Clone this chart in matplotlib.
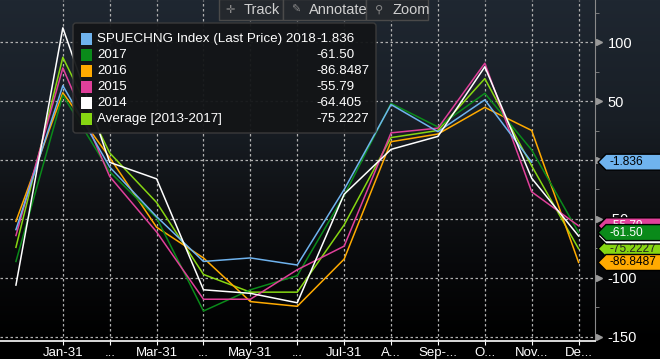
import numpy as np
import matplotlib
matplotlib.use("Agg")
import matplotlib.pyplot as plt
from matplotlib.patches import Polygon, Rectangle, FancyBboxPatch
from matplotlib.transforms import IdentityTransform, blended_transform_factory

plt.rcParams['font.family'] = ['Liberation Sans', 'DejaVu Sans']

# data (first point = previous Dec)
months = ["", "Jan-31", "...", "Mar-31", "...", "May-31", "...", "Jul-31",
          "A...", "Sep-...", "O...", "Nov...", "De..."]
s2018 = [-59, 63, -6, -48, -86, -83, -89, -25, 47, 24, 51, -1.836]
s2017 = [-86, 55, -10, -49, -128, -110, -98, -30, 48, 28, 56.5, 8.5, -61.50]
s2016 = [-52, 57, 2, -57, -83, -120, -124, -84, 15.5, 22, 44.6, 25, -86.8487]
s2015 = [-64, 78, -14, -61, -118, -118, -93, -73, 23, 27, 82, -27, -55.79]
s2014 = [-106, 112, -2, -16, -110, -113, -121, -29, 9, 20, 79, -15.5, -64.405]
avg = [-74, 87, 6, -36, -97, -112, -112, -55, 19, 25, 69, -5, -75.2227]

names = ["SPUECHNG Index (Last Price) 2018", "2017", "2016", "2015", "2014",
         "Average [2013-2017]"]
last_vals = ["-1.836", "-61.50", "-86.8487", "-55.79", "-64.405", "-75.2227"]
colors = ["#6fb3ee", "#0a8a1a", "#ffaa00", "#e0409a", "#ffffff", "#86d612"]
series = [s2018, s2017, s2016, s2015, s2014, avg]

W, H = 660, 359
FS = 10
fig = plt.figure(figsize=(W / 100, H / 100), dpi=100)

# background gradient
bg = fig.add_axes([0, 0, 1, 1], zorder=-10)
ys = np.arange(H)
stops_y = [0, 120, 200, 270, 341, 359]
stops_c = [(31, 39, 49), (24, 30, 37), (15, 17, 20), (7, 8, 10), (0, 0, 0), (0, 0, 0)]
grad = np.stack([np.interp(ys, stops_y, [c[i] for c in stops_c]) for i in range(3)], axis=-1) / 255
bg.imshow(grad[:, None, :], aspect='auto', extent=[0, 1, 0, 1])
bg.axis('off')

ax = fig.add_axes([0, 18 / H, 595 / W, 341 / H])
ax.set_facecolor('none')
ax.set_xlim(-0.34, 12.35)
ax.set_ylim(-153.4, 135.6)

for s, c in zip([avg, s2016, s2017, s2015, s2018, s2014],
                [colors[5], colors[2], colors[1], colors[3], colors[0], colors[4]]):
    ax.plot(range(len(s)), s, color=c, lw=1.1, zorder=3)

# grid
for v in [100, 50, 0, -50, -100, -150]:
    ax.axhline(v, color='#b0b0b0', lw=0.9, ls=(0, (2, 2)), zorder=1)
for i in range(1, 13):
    ax.axvline(i, color='#b0b0b0', lw=0.9, ls=(0, (2, 2)), zorder=1)

# spines
for sp in ['top', 'left']:
    ax.spines[sp].set_visible(False)
ax.spines['bottom'].set_color('white')
ax.spines['bottom'].set_linewidth(1.2)
ax.spines['right'].set_color('#8a8a8a')

ax.set_xticks(range(1, 13))
ax.set_xticklabels(months[1:], color='white', fontsize=FS - 0.5)
ax.tick_params(axis='x', direction='out', length=3, color='white', pad=1)

ax.yaxis.tick_right()
ax.set_yticks([100, 50, 0, -50, -100, -150])
# 0 is hidden behind the 2018 tag in the original
ax.set_yticklabels(["100", "50", "", "-50", "-100", "-150"], color='white', fontsize=FS + 0.5)
ax.set_yticks([125, 75, 25, -25, -75, -125], minor=True)
ax.tick_params(axis='y', which='major', length=0, pad=9)
ax.tick_params(axis='y', which='minor', direction='out', length=3, color='#8a8a8a')
tr = blended_transform_factory(ax.transAxes, ax.transData)
ax.plot([1.006] * 6, [100, 50, 0, -50, -100, -150], marker='>', ms=5, ls='none',
        color='#9a9a9a', transform=tr, clip_on=False)

# value tags on the right
fig.canvas.draw()


def tag(val, txt, fc, tc, z):
    y = ax.transData.transform((0, val))[1]
    pts = [(598, y), (606, y + 8), (W + 2, y + 8), (W + 2, y - 8), (606, y - 8)]
    fig.patches.append(Polygon(pts, closed=True, fc=fc, ec='black', lw=1,
                               transform=IdentityTransform(), zorder=z))
    fig.text(609 / W, y / H, txt, color=tc, fontsize=8.6, va='center', ha='left', zorder=z)


tag(-1.836, "-1.836", colors[0], 'black', 20)
tag(-55.79, "-55.79", colors[3], 'white', 21)
tag(-75.2227, "-75.2227", colors[5], '#222222', 22)
tag(-86.8487, "-86.8487", colors[2], 'black', 23)
tag(-64.405, "-64.405", colors[4], 'black', 24)
tag(-61.50, "-61.50", colors[1], 'white', 25)

# legend box
fig.patches.append(FancyBboxPatch((73, H - 133), 303, 110, boxstyle="round,pad=0,rounding_size=3",
                                  fc='#131517', ec='#3c3c3c', lw=1, alpha=0.95,
                                  transform=IdentityTransform(), zorder=30))
for k, (n, v, c) in enumerate(zip(names, last_vals, colors)):
    yc = H - (39 + 16 * k)
    fig.patches.append(Rectangle((81, yc - 6), 11, 12, fc=c, ec='none',
                                 transform=IdentityTransform(), zorder=31))
    fig.text(97 / W, yc / H, n, color='white', fontsize=9.6, va='center', zorder=32)
    fig.text(316 / W, yc / H, v, color='white', fontsize=9.6, va='center', zorder=32)

# toolbar
for x0, x1, icon, label, ix, lx in [(219, 283, "✛", "Track", 230, 244),
                                    (283, 366, "✎", "Annotate", 296, 309),
                                    (366, 428, "⚲", "Zoom", 379, 392)]:
    fig.patches.append(Rectangle((x0, H - 20), x1 - x0, 21, fc='#24282d', ec='#4a4a4a', lw=1,
                                 transform=IdentityTransform(), zorder=30))
    fig.text(ix / W, (H - 10) / H, icon, color='#8a8a8a', fontsize=8, va='center', ha='center',
             family='DejaVu Sans', zorder=31)
    fig.text(lx / W, (H - 10) / H, label, color='#d0d0d0', fontsize=FS + 0.5, va='center', zorder=31)

fig.savefig("out.png", dpi=100)
